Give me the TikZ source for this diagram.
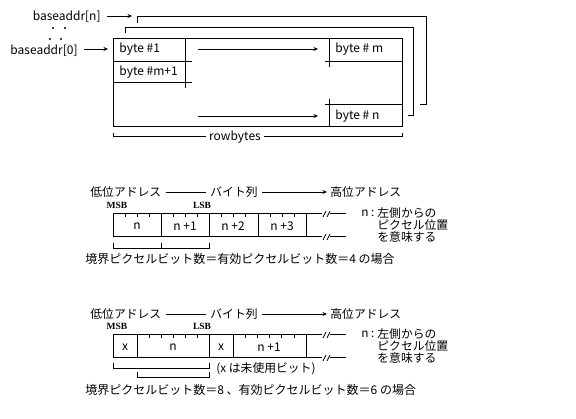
\documentclass[tikz,border=0pt]{standalone}
\usepackage{fontspec}
\setmainfont{Noto Sans CJK JP}
\newfontfamily\msbfont{Liberation Serif}
\usetikzlibrary{arrows.meta}
\begin{document}
\begin{tikzpicture}[x=1pt,y=-1pt,line width=0.8pt,
  lbl/.style={font=\fontsize{12}{12}\selectfont,inner sep=0pt,anchor=west},
  jp/.style={font=\fontsize{11.8}{11.8}\selectfont,inner sep=0pt,anchor=west},
  capt/.style={font=\fontsize{12}{12}\selectfont,inner sep=0pt,anchor=west},
  msb/.style={font=\msbfont\bfseries\fontsize{9.5}{9.5}\selectfont,inner sep=0pt},
  cell/.style={font=\fontsize{12}{12}\selectfont,inner sep=0pt},
  arr/.style={-{Stealth[length=4.5pt,width=4pt]}}]
\useasboundingbox (0,0) rectangle (576,418);
% ---------- top diagram ----------
\draw (113,38) rectangle (402,126);
\draw (185,38) -- (185,88);
\draw (113,61) -- (192,61);
\draw (113,82) -- (192,82);
\draw (329,38) -- (329,67);
\draw (325,61) -- (402,61);
\draw (329,99) -- (329,126);
\draw (325,104) -- (402,104);
\coordinate (r1s) at (198,49); \coordinate (r1e) at (318,49);
\coordinate (r2s) at (198,116); \coordinate (r2e) at (318,116);
\draw[arr] (r1s) -- (r1e);
\draw[arr] (r2s) -- (r2e);
\draw (125,33) -- (125,27) -- (413,27) -- (413,115) -- (408,115);
\draw (137,23) -- (137,16) -- (426,16) -- (426,104) -- (420,104);
\node[lbl] (b1) at (119,49) {byte \#1};
\node[lbl] (bm1) at (119,72) {byte \#m+1};
\node[lbl] (bm) at (335,49) {byte \# m};
\node[lbl] (bn) at (335,116) {byte \# n};
\node[lbl,anchor=east] (ban) at (101,17) {baseaddr[n]};
\node[lbl,anchor=east] (ba0) at (78,51) {baseaddr[0]};
\coordinate (tn) at (132,16);
\coordinate (t0) at (108,49);
\draw[arr] ([xshift=6pt]ban.east |- tn) -- (tn);
\draw[arr] ([xshift=6pt]ba0.east |- t0) -- (t0);
\fill (53,28) circle (1.1) (65,28) circle (1.1) (50,39) circle (1.1) (61,39) circle (1.1);
\node[lbl,anchor=center] (rb) at (235,137) {rowbytes};
\draw (113,133) -- (113,136) -- ([xshift=-3pt]rb.west |- 0,136);
\draw ([xshift=3pt]rb.east |- 0,136) -- (402,136) -- (402,133);
% ---------- middle diagram ----------
\node[jp] (lo1) at (90,192) {低位アドレス};
\node[jp,anchor=center] (by1) at (234,192) {バイト列};
\node[jp] (hi1) at (330,192) {高位アドレス};
\draw ([xshift=4pt]lo1.east) -- ([xshift=-4pt]by1.west);
\draw[arr] ([xshift=4pt]by1.east) -- ([xshift=-3pt]hi1.west);
\node[msb] (msb1) at (117,205) {MSB};
\node[msb] (lsb1) at (202,205) {LSB};
\draw (322,213) -- (113,213) -- (113,236) -- (322,236);
\foreach \x in {161,209,258,306} \draw (\x,213) -- (\x,236);
\foreach \x in {125,137,149,173,185,197,221,233,245,270,282,294} \draw (\x,213) -- (\x,217);
\foreach \y in {213,236} {
  \draw (323,\y+4) -- (326,\y-2) (327,\y+4) -- (330,\y-2);
  \draw (330,\y) -- (346,\y);
}
\node[cell] (c11) at (137,226) {n};
\node[cell] (c12) at (185,226) {n +1};
\node[cell] (c13) at (233,226) {n +2};
\node[cell] (c14) at (282,226) {n +3};
\draw (113,243) -- (113,248) -- (209,248) -- (209,243);
\draw (161,248) -- (161,243);
\node[capt] (cap1) at (85,259) {境界ピクセルビット数＝有効ピクセルビット数＝4 の場合};
\node[jp] (nn1) at (361,213) {n :};
\node[jp] (na1) at (377,213) {左側からの};
\node[jp] (nb1) at (377,225) {ピクセル位置};
\node[jp] (nc1) at (377,237) {を意味する};
% ---------- bottom diagram ----------
\node[jp] (lo2) at (90,314) {低位アドレス};
\node[jp,anchor=center] (by2) at (234,314) {バイト列};
\node[jp] (hi2) at (330,314) {高位アドレス};
\draw ([xshift=4pt]lo2.east) -- ([xshift=-4pt]by2.west);
\draw[arr] ([xshift=4pt]by2.east) -- ([xshift=-3pt]hi2.west);
\node[msb] (msb2) at (117,326) {MSB};
\node[msb] (lsb2) at (202,326) {LSB};
\draw (322,334) -- (113,334) -- (113,357) -- (322,357);
\foreach \x in {137,209,233,306} \draw (\x,334) -- (\x,357);
\foreach \x in {149,161,173,185,197,245,257,269,281,294} \draw (\x,334) -- (\x,338);
\foreach \y in {334,357} {
  \draw (323,\y+4) -- (326,\y-2) (327,\y+4) -- (330,\y-2);
  \draw (330,\y) -- (346,\y);
}
\node[cell] (c21) at (125,347) {x};
\node[cell] (c22) at (173,347) {n};
\node[cell] (c23) at (221,347) {x};
\node[cell] (c24) at (269,347) {n +1};
\draw (113,363) -- (113,368) -- (209,368) -- (209,363);
\draw (137,372) -- (137,377) -- (209,377) -- (209,372);
\node[jp] (unused) at (216,369) {(x は未使用ビット)};
\node[capt] (cap2) at (85,390) {境界ピクセルビット数＝8 、有効ピクセルビット数＝6 の場合};
\node[jp] (nn2) at (361,334) {n :};
\node[jp] (na2) at (377,334) {左側からの};
\node[jp] (nb2) at (377,346) {ピクセル位置};
\node[jp] (nc2) at (377,358) {を意味する};
\end{tikzpicture}
\end{document}
